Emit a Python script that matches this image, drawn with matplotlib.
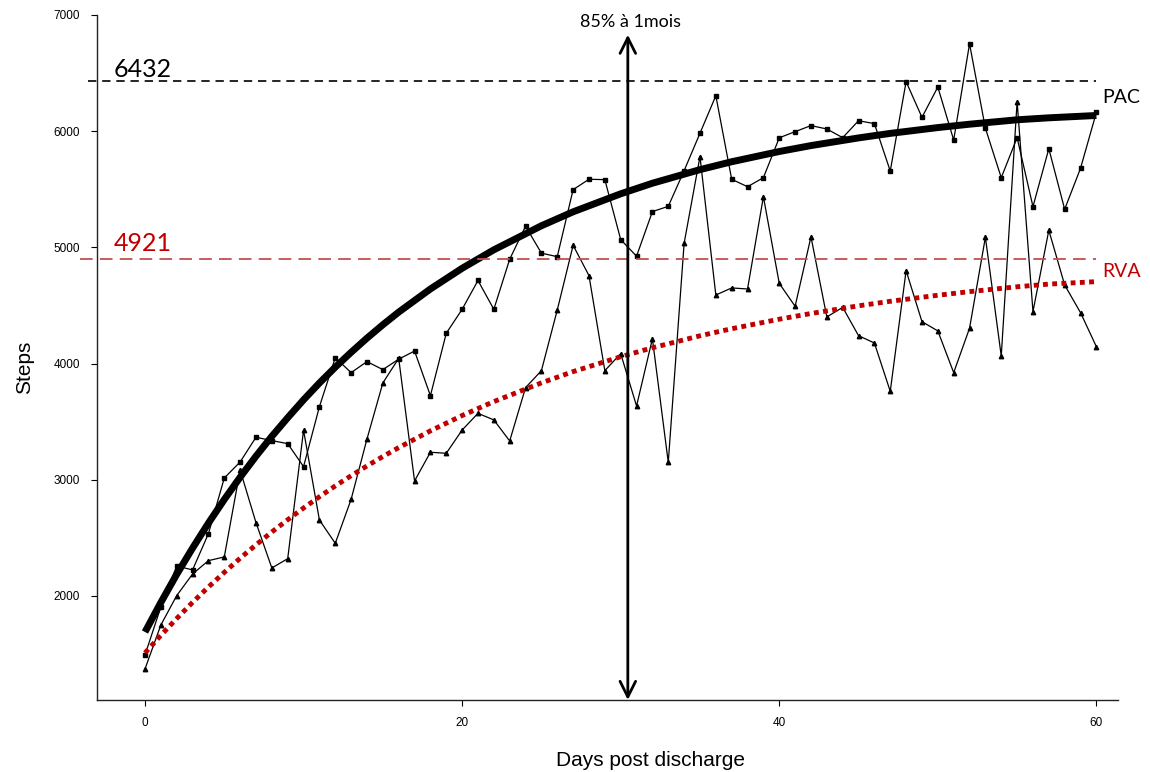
import matplotlib
matplotlib.use("Agg")
import matplotlib.pyplot as plt

# Jours et pas journaliers
days = list(range(0, 61))

pac_steps = [1492, 1905, 2258, 2224, 2536, 3015, 3153, 3366, 3337, 3311,
             3113, 3629, 4051, 3922, 4017, 3948, 4038, 4108, 3724, 4261,
             4467, 4715, 4467, 4898, 5182, 4950, 4920, 5497, 5586, 5583,
             5067, 4924, 5308, 5353, 5660, 5982, 6305, 5586, 5522, 5600,
             5943, 5996, 6048, 6019, 5944, 6090, 6065, 5657, 6426, 6119,
             6380, 5924, 6752, 6025, 5600, 5944, 5351, 5849, 5328, 5681,
             6162]

rva_steps = [1372, 1750, 2003, 2189, 2304, 2336, 3084, 2631, 2241, 2321,
             3426, 2654, 2453, 2832, 3351, 3833, 4045, 2990, 3237, 3228,
             3428, 3572, 3515, 3334, 3793, 3939, 4461, 5018, 4757, 3939,
             4086, 3635, 4214, 3150, 5035, 5781, 4590, 4651, 4642, 5436,
             4690, 4493, 5091, 4401, 4484, 4240, 4177, 3761, 4800, 4361,
             4281, 3922, 4304, 5087, 4065, 6254, 4447, 5147, 4676, 4438,
             4145]

# Courbes de tendance
trend_days = [0, 1, 2, 3, 4, 5, 6, 7, 8, 9, 10, 11, 12, 13, 14, 15, 16, 18,
              20, 22, 25, 27, 30, 32, 35, 37, 40, 42, 45, 47, 50, 52, 55, 57, 60]
pac_trend = [1690, 1944, 2186, 2412, 2627, 2830, 3022, 3203, 3374, 3534,
             3688, 3833, 3969, 4097, 4219, 4334, 4443, 4642,
             4820, 4979, 5186, 5306, 5461, 5552, 5669, 5737, 5825, 5876,
             5942, 5981, 6031, 6060, 6098, 6115, 6135]
rva_trend = [1510, 1661, 1806, 1945, 2077, 2203, 2325, 2440, 2551, 2656,
             2757, 2854, 2947, 3035, 3119, 3200, 3277, 3421,
             3553, 3673, 3834, 3931, 4059, 4136, 4239, 4300, 4382, 4431,
             4497, 4536, 4588, 4619, 4661, 4684, 4705]

pac_ref = 6432
rva_ref = 4921
month_day = 30.45

dark_red = "#C00000"
label_font = ["Lato", "DejaVu Sans"]
axis_font = ["Liberation Sans Narrow", "Liberation Sans", "DejaVu Sans"]

fig = plt.figure(figsize=(11.5, 7.72), dpi=100)
ax = fig.add_axes([0.0843, 0.0933, 0.8877, 0.8873])

# Séries brutes
ax.plot(days, pac_steps, color="black", lw=0.9, marker="s", ms=2.8)
ax.plot(days, rva_steps, color="black", lw=0.9, marker="^", ms=3.2)

# Tendances
ax.plot(trend_days, pac_trend, color="black", lw=5, solid_capstyle="butt",
        solid_joinstyle="round")
ax.plot(trend_days, rva_trend, color=dark_red, lw=3.5, ls=(0, (1, 0.9)))

# Références horizontales
ax.plot([-3.6, 60], [pac_ref, pac_ref], color="black", lw=1.2,
        ls=(0, (5, 3.5)), clip_on=False)
ax.plot([-4.1, 60], [4900, 4900], color="#C0504D", lw=1.3,
        ls=(0, (7, 4)), clip_on=False)
ax.text(-2.0, 6530, str(pac_ref), fontsize=18, family=label_font,
        ha="left", va="center")
ax.text(-2.0, 5030, str(rva_ref), fontsize=18, family=label_font,
        color=dark_red, ha="left", va="center")
ax.text(60.4, 6290, "PAC", fontsize=14, family=label_font,
        ha="left", va="center", clip_on=False)
ax.text(60.4, 4790, "RVA", fontsize=14, family=label_font,
        color=dark_red, ha="left", va="center", clip_on=False)

# Flèche à 1 mois
ax.annotate("", xy=(month_day, 6830), xytext=(month_day, 1105),
            arrowprops=dict(arrowstyle="<->", lw=2, color="black",
                            mutation_scale=28, shrinkA=0, shrinkB=0),
            annotation_clip=False)
ax.text(month_day + 0.15, 6940, "85% à 1mois", fontsize=13,
        family=label_font, ha="center", va="center")

ax.set_xlim(-3.03, 61.35)
ax.set_ylim(1105, 7000)
ax.set_xticks([0, 20, 40, 60])
ax.set_yticks([2000, 3000, 4000, 5000, 6000, 7000])
ax.tick_params(labelsize=8.5, length=4, width=0.8, pad=8)
for lab in ax.get_xticklabels() + ax.get_yticklabels():
    lab.set_family(axis_font)

for side in ["top", "right"]:
    ax.spines[side].set_visible(False)
for side in ["left", "bottom"]:
    ax.spines[side].set_linewidth(1)
    ax.spines[side].set_color("#222222")

# Titres des axes
fig.text(651 / 1150, 1 - 760 / 772, "Days post discharge", fontsize=15,
         family=axis_font, ha="center", va="center")
fig.text(25 / 1150, 1 - 367 / 772, "Steps", fontsize=15, family=axis_font,
         rotation=90, ha="center", va="center")

fig.savefig("out.png", dpi=100)
